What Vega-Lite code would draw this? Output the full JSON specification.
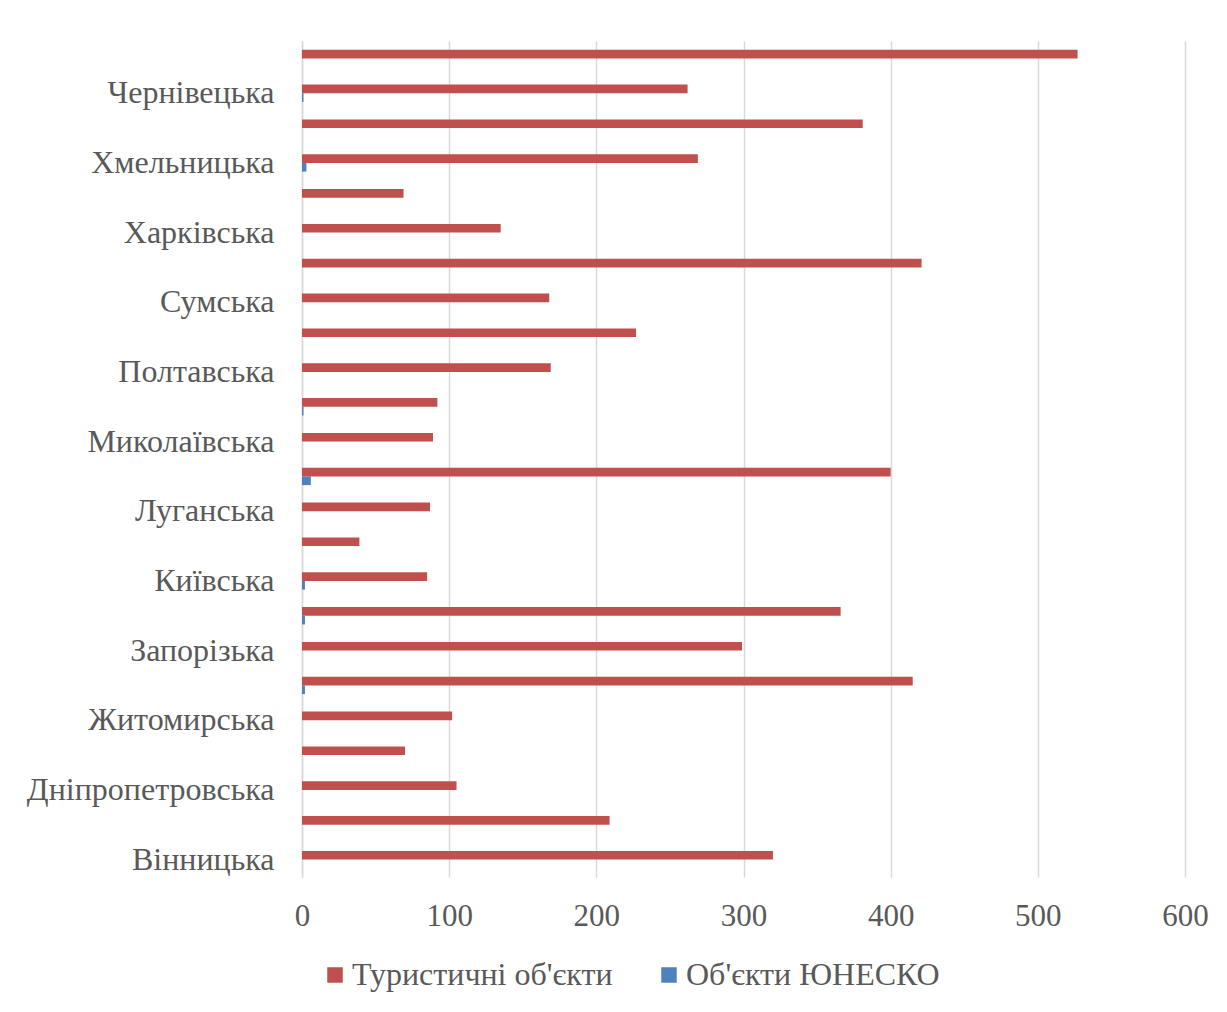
{
  "$schema": "https://vega.github.io/schema/vega-lite/v6.json",
  "width": 883,
  "height": 836,
  "autosize": {"type": "none"},
  "padding": {"left": 302, "top": 41, "right": 42, "bottom": 135},
  "background": "white",
  "data": {
    "values": [
      {"region": "Чернігівська", "series": "Туристичні об'єкти", "value": 527},
      {"region": "Чернівецька", "series": "Туристичні об'єкти", "value": 262},
      {"region": "Черкаська", "series": "Туристичні об'єкти", "value": 381},
      {"region": "Хмельницька", "series": "Туристичні об'єкти", "value": 269},
      {"region": "Херсонська", "series": "Туристичні об'єкти", "value": 69},
      {"region": "Харківська", "series": "Туристичні об'єкти", "value": 135},
      {"region": "Тернопільська", "series": "Туристичні об'єкти", "value": 421},
      {"region": "Сумська", "series": "Туристичні об'єкти", "value": 168},
      {"region": "Рівненська", "series": "Туристичні об'єкти", "value": 227},
      {"region": "Полтавська", "series": "Туристичні об'єкти", "value": 169},
      {"region": "Одеська", "series": "Туристичні об'єкти", "value": 92},
      {"region": "Миколаївська", "series": "Туристичні об'єкти", "value": 89},
      {"region": "Львівська", "series": "Туристичні об'єкти", "value": 400},
      {"region": "Луганська", "series": "Туристичні об'єкти", "value": 87},
      {"region": "Кіровоградська", "series": "Туристичні об'єкти", "value": 39},
      {"region": "Київська", "series": "Туристичні об'єкти", "value": 85},
      {"region": "Івано-Франківська", "series": "Туристичні об'єкти", "value": 366},
      {"region": "Запорізька", "series": "Туристичні об'єкти", "value": 299},
      {"region": "Закарпатська", "series": "Туристичні об'єкти", "value": 415},
      {"region": "Житомирська", "series": "Туристичні об'єкти", "value": 102},
      {"region": "Донецька", "series": "Туристичні об'єкти", "value": 70},
      {"region": "Дніпропетровська", "series": "Туристичні об'єкти", "value": 105},
      {"region": "Волинська", "series": "Туристичні об'єкти", "value": 209},
      {"region": "Вінницька", "series": "Туристичні об'єкти", "value": 320},
      {"region": "Чернівецька", "series": "Об'єкти ЮНЕСКО", "value": 1},
      {"region": "Хмельницька", "series": "Об'єкти ЮНЕСКО", "value": 3},
      {"region": "Одеська", "series": "Об'єкти ЮНЕСКО", "value": 1},
      {"region": "Львівська", "series": "Об'єкти ЮНЕСКО", "value": 6},
      {"region": "Київська", "series": "Об'єкти ЮНЕСКО", "value": 2},
      {"region": "Івано-Франківська", "series": "Об'єкти ЮНЕСКО", "value": 2},
      {"region": "Закарпатська", "series": "Об'єкти ЮНЕСКО", "value": 2}
    ]
  },
  "mark": {"type": "bar"},
  "encoding": {
    "y": {
      "field": "region",
      "type": "nominal",
      "sort": ["Чернігівська", "Чернівецька", "Черкаська", "Хмельницька", "Херсонська", "Харківська", "Тернопільська", "Сумська", "Рівненська", "Полтавська", "Одеська", "Миколаївська", "Львівська", "Луганська", "Кіровоградська", "Київська", "Івано-Франківська", "Запорізька", "Закарпатська", "Житомирська", "Донецька", "Дніпропетровська", "Волинська", "Вінницька"],
      "scale": {"paddingInner": 0.5, "paddingOuter": 0.25},
      "axis": {
        "title": null,
        "ticks": false,
        "domainColor": "#d9d9d9",
        "domainWidth": 1.5,
        "labelFont": "Liberation Serif",
        "labelFontSize": 32,
        "labelColor": "#595959",
        "labelPadding": 28,
        "labelLimit": 400,
        "labelExpr": "indexof(['Вінницька','Дніпропетровська','Житомирська','Запорізька','Київська','Луганська','Миколаївська','Полтавська','Сумська','Харківська','Хмельницька','Чернівецька'], datum.label) >= 0 ? datum.label : ''"
      }
    },
    "yOffset": {
      "field": "series",
      "sort": ["Туристичні об'єкти", "Об'єкти ЮНЕСКО"],
      "scale": {"paddingInner": 0, "paddingOuter": 0}
    },
    "x": {
      "field": "value",
      "type": "quantitative",
      "scale": {"domain": [0, 600]},
      "axis": {
        "title": null,
        "values": [0, 100, 200, 300, 400, 500, 600],
        "domain": false,
        "ticks": false,
        "grid": true,
        "gridColor": "#d9d9d9",
        "gridWidth": 1.5,
        "labelFlush": false,
        "labelFont": "Liberation Serif",
        "labelFontSize": 31,
        "labelColor": "#595959",
        "labelPadding": 24
      }
    },
    "color": {
      "field": "series",
      "type": "nominal",
      "scale": {"domain": ["Туристичні об'єкти", "Об'єкти ЮНЕСКО"], "range": ["#C0504D", "#4F81BD"]},
      "legend": {
        "title": null,
        "orient": "none",
        "legendX": 17,
        "legendY": 918,
        "direction": "horizontal",
        "symbolType": "square",
        "symbolSize": 240,
        "symbolStrokeWidth": 0,
        "labelFont": "Liberation Serif",
        "labelFontSize": 32,
        "labelColor": "#595959",
        "labelOffset": 1,
        "columnPadding": 40,
        "labelLimit": 400
      }
    }
  },
  "config": {"view": {"stroke": null}}
}
